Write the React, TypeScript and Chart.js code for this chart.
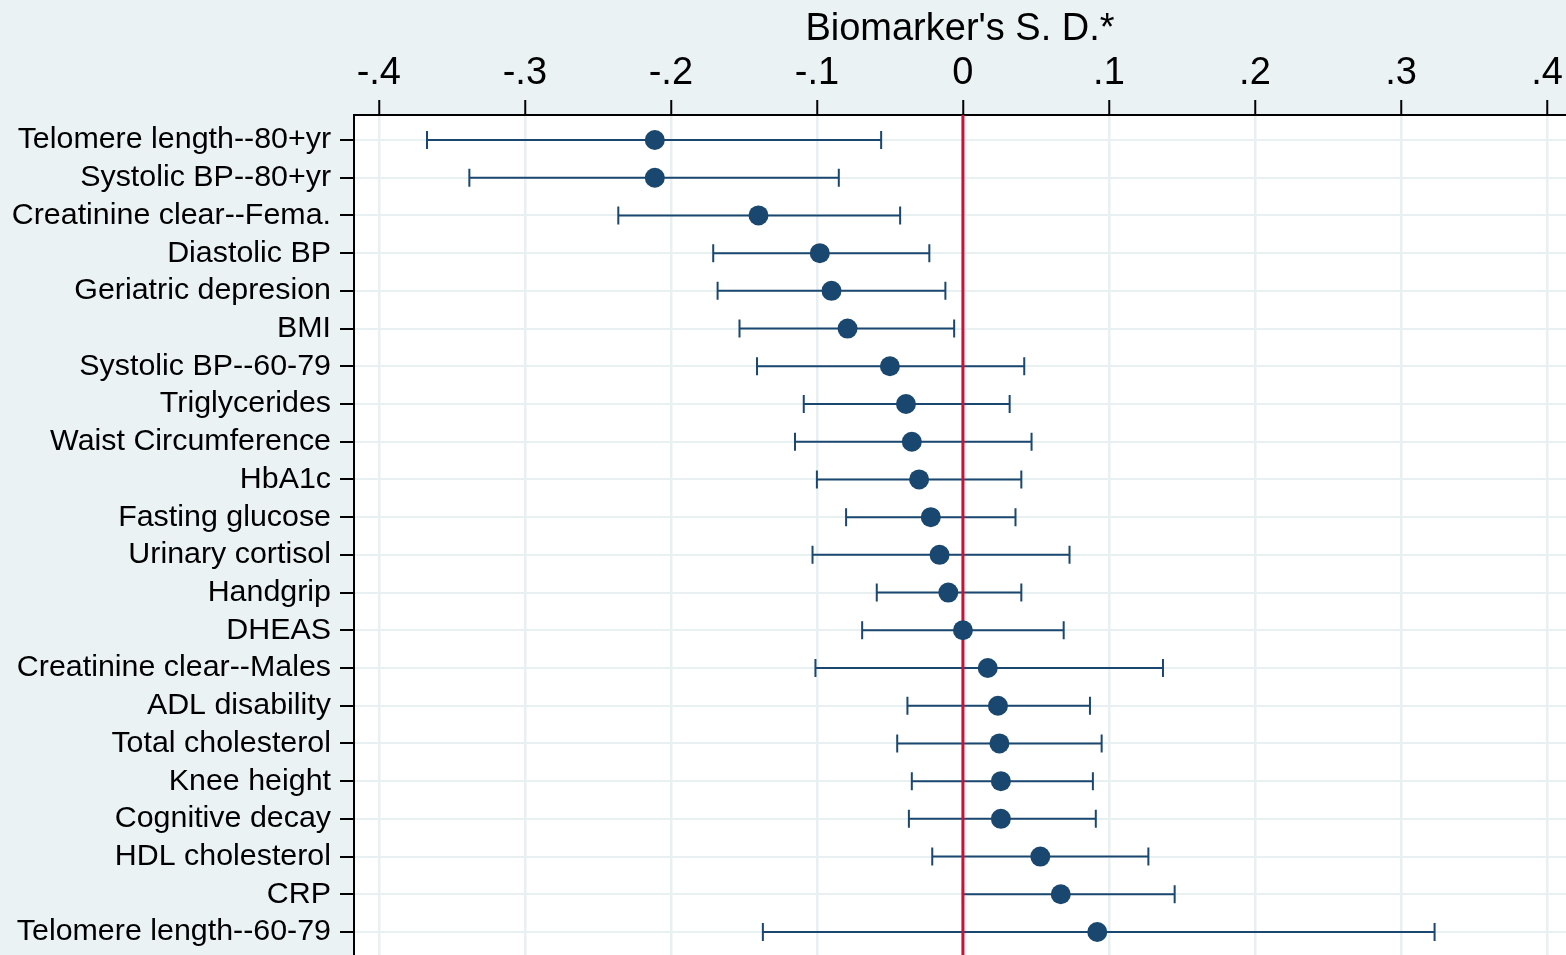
import { useEffect, useRef } from "react";
import { Chart, registerables } from "chart.js";

Chart.register(...registerables);

const categories = [
  "Telomere length--80+yr",
  "Systolic BP--80+yr",
  "Creatinine clear--Fema.",
  "Diastolic BP",
  "Geriatric depresion",
  "BMI",
  "Systolic BP--60-79",
  "Triglycerides",
  "Waist Circumference",
  "HbA1c",
  "Fasting glucose",
  "Urinary cortisol",
  "Handgrip",
  "DHEAS",
  "Creatinine clear--Males",
  "ADL disability",
  "Total cholesterol",
  "Knee height",
  "Cognitive decay",
  "HDL cholesterol",
  "CRP",
  "Telomere length--60-79",
];

const estimates = [
  -0.211, -0.211, -0.14, -0.098, -0.09, -0.079, -0.05, -0.039, -0.035, -0.03, -0.022,
  -0.016, -0.01, 0.0, 0.017, 0.024, 0.025, 0.026, 0.026, 0.053, 0.067, 0.092,
];

const lowerCI = [
  -0.367, -0.338, -0.236, -0.171, -0.168, -0.153, -0.141, -0.109, -0.115, -0.1, -0.08,
  -0.103, -0.059, -0.069, -0.101, -0.038, -0.045, -0.035, -0.037, -0.021, 0.0, -0.137,
];

const upperCI = [
  -0.056, -0.085, -0.043, -0.023, -0.012, -0.006, 0.042, 0.032, 0.047, 0.04, 0.036,
  0.073, 0.04, 0.069, 0.137, 0.087, 0.095, 0.089, 0.091, 0.127, 0.145, 0.323,
];

const xTickValues = [-0.4, -0.3, -0.2, -0.1, 0, 0.1, 0.2, 0.3, 0.4];
const xTickLabels = ["-.4", "-.3", "-.2", "-.1", "0", ".1", ".2", ".3", ".4"];
const referenceLine = 0;
const xTitle = "Biomarker's S. D.*";

const BG = "#eaf2f3";
const GRID = "#e8f0f2";
const NAVY = "#1a476f";
const RED = "#cc1038";
const FONT = "'Liberation Sans', Arial, Helvetica, sans-serif";

const backgroundPlugin = {
  id: "bgPlugin",
  beforeDraw(chart: any) {
    const { ctx, chartArea } = chart;
    ctx.save();
    ctx.fillStyle = BG;
    ctx.fillRect(0, 0, chart.width, chart.height);
    ctx.fillStyle = "#ffffff";
    ctx.fillRect(chartArea.left, chartArea.top, chartArea.right - chartArea.left, chartArea.bottom - chartArea.top);
    ctx.restore();
  },
};

const errorBarPlugin = {
  id: "errorBars",
  beforeDatasetsDraw(chart: any) {
    const { ctx, chartArea } = chart;
    const x = chart.scales.x;
    const y = chart.scales.y;
    ctx.save();
    ctx.beginPath();
    ctx.rect(chartArea.left, chartArea.top, chartArea.right - chartArea.left, chartArea.bottom - chartArea.top);
    ctx.clip();

    ctx.strokeStyle = NAVY;
    ctx.lineWidth = 2;
    for (let i = 0; i < categories.length; i++) {
      const yp = y.getPixelForValue(i + 1);
      const x1 = x.getPixelForValue(lowerCI[i]);
      const x2 = x.getPixelForValue(upperCI[i]);
      ctx.beginPath();
      ctx.moveTo(x1, yp);
      ctx.lineTo(x2, yp);
      ctx.moveTo(x1, yp - 9);
      ctx.lineTo(x1, yp + 9);
      ctx.moveTo(x2, yp - 9);
      ctx.lineTo(x2, yp + 9);
      ctx.stroke();
    }

    const xr = x.getPixelForValue(referenceLine);
    ctx.strokeStyle = RED;
    ctx.lineWidth = 3;
    ctx.beginPath();
    ctx.moveTo(xr, chartArea.top);
    ctx.lineTo(xr, chartArea.bottom);
    ctx.stroke();
    ctx.restore();
  },
};

const zeroPadding = (scale: any) => {
  scale.paddingLeft = 0;
  scale.paddingRight = 0;
  scale.paddingTop = 0;
  scale.paddingBottom = 0;
};

export default function App() {
  const canvasRef = useRef<HTMLCanvasElement | null>(null);

  useEffect(() => {
    if (!canvasRef.current) return;
    const chart = new Chart(canvasRef.current, {
      type: "scatter",
      data: {
        datasets: [
          {
            data: estimates.map((v, i) => ({ x: v, y: i + 1 })),
            backgroundColor: NAVY,
            borderColor: NAVY,
            borderWidth: 0,
            pointRadius: 10,
            pointHoverRadius: 10,
          },
        ],
      },
      options: {
        responsive: false,
        animation: false,
        layout: { padding: 0, autoPadding: false },
        plugins: {
          legend: { display: false },
          tooltip: { enabled: false },
          title: { display: false },
        },
        scales: {
          x: {
            type: "linear",
            position: "top",
            min: -0.417,
            max: 0.413,
            afterBuildTicks: (scale: any) => {
              scale.ticks = xTickValues.map((v) => ({ value: v }));
            },
            afterFit: (scale: any) => {
              scale.height = 115;
              zeroPadding(scale);
            },
            ticks: {
              autoSkip: false,
              maxRotation: 0,
              padding: 4,
              color: "#000",
              font: { family: FONT, size: 38 },
              callback: (value: any) => {
                const idx = xTickValues.findIndex((t) => Math.abs(t - Number(value)) < 1e-9);
                return idx >= 0 ? xTickLabels[idx] : "";
              },
            },
            grid: {
              color: GRID,
              lineWidth: 2.5,
              tickColor: "#000",
              tickWidth: 2,
              tickLength: 15,
            },
            border: { display: true, color: "#000", width: 2 },
            title: {
              display: true,
              text: xTitle,
              color: "#000",
              font: { family: FONT, size: 38 },
              padding: { top: 7, bottom: 0 },
            },
          },
          y: {
            type: "linear",
            reverse: true,
            min: 0.3371,
            max: 22.6098,
            afterBuildTicks: (scale: any) => {
              scale.ticks = categories.map((_, i) => ({ value: i + 1 }));
            },
            afterFit: (scale: any) => {
              scale.width = 354;
              zeroPadding(scale);
            },
            ticks: {
              autoSkip: false,
              padding: 9,
              color: "#000",
              font: { family: FONT, size: 30.4 },
              callback: (value: any) => categories[Math.round(Number(value)) - 1] ?? "",
            },
            grid: {
              color: GRID,
              lineWidth: 2,
              tickColor: "#000",
              tickWidth: 2,
              tickLength: 14,
            },
            border: { display: true, color: "#000", width: 2 },
          },
        },
      },
      plugins: [backgroundPlugin, errorBarPlugin],
    });
    return () => chart.destroy();
  }, []);

  return (
    <div style={{ position: "fixed", left: 0, top: 0, width: 1566, height: 955 }}>
      <canvas ref={canvasRef} width={1566} height={955} />
    </div>
  );
}
